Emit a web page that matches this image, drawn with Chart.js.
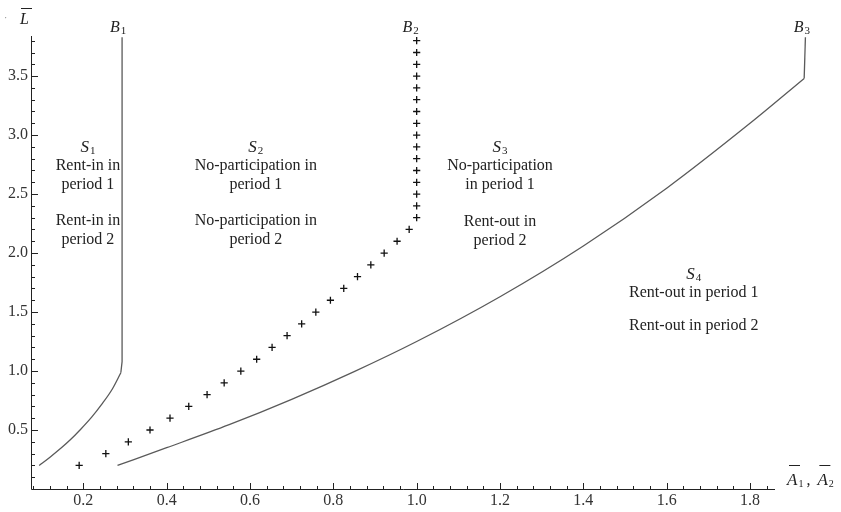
<!DOCTYPE html>
<html><head><meta charset="utf-8">
<script src="https://cdn.jsdelivr.net/npm/chart.js@4.4.0/dist/chart.umd.min.js"></script>
<style>html,body{margin:0;padding:0;background:#fff}#wrap{width:841px;height:512px}</style>
</head><body><div id="wrap"><canvas id="c" width="841" height="512"></canvas></div>
<script>
// ---- data ----
const b1CurveX = [0.094, 0.12, 0.148, 0.17, 0.192, 0.22, 0.244, 0.27, 0.29];
const b1CurveY = [0.2, 0.27, 0.351, 0.421, 0.5, 0.609, 0.717, 0.85, 0.985];
const b1VertX = [0.29, 0.293, 0.293];
const b1VertY = [0.985, 1.08, 3.83];

const b2X = [0.19, 0.254, 0.308, 0.36, 0.408, 0.453, 0.497, 0.538, 0.578, 0.616, 0.653,
             0.689, 0.724, 0.758, 0.793, 0.825, 0.858, 0.89, 0.922, 0.953, 0.982,
             1.0, 1.0, 1.0, 1.0, 1.0, 1.0, 1.0, 1.0, 1.0, 1.0, 1.0, 1.0, 1.0, 1.0, 1.0, 1.0];
const b2Y = [0.2, 0.3, 0.4, 0.5, 0.6, 0.7, 0.8, 0.9, 1.0, 1.1, 1.2,
             1.3, 1.4, 1.5, 1.6, 1.7, 1.8, 1.9, 2.0, 2.1, 2.2,
             2.3, 2.4, 2.5, 2.6, 2.7, 2.8, 2.9, 3.0, 3.1, 3.2, 3.3, 3.4, 3.5, 3.6, 3.7, 3.8];

const b3CurveX = [0.282, 0.4, 0.55, 0.7, 0.85, 1.0, 1.2, 1.4, 1.6, 1.8, 1.93];
const b3CurveY = [0.2, 0.35, 0.545, 0.76, 0.995, 1.25, 1.63, 2.06, 2.55, 3.1, 3.48];
const b3VertX = [1.93, 1.933];
const b3VertY = [3.48, 3.83];

const xTickValues = [0.2, 0.4, 0.6, 0.8, 1.0, 1.2, 1.4, 1.6, 1.8];
const xTickLabels = ['0.2', '0.4', '0.6', '0.8', '1.0', '1.2', '1.4', '1.6', '1.8'];
const yTickValues = [0.5, 1.0, 1.5, 2.0, 2.5, 3.0, 3.5];
const yTickLabels = ['0.5', '1.0', '1.5', '2.0', '2.5', '3.0', '3.5'];

const xMin = 0.0744, xMax = 1.86, yMin = 0, yMax = 3.84;

const SERIF = '"Liberation Serif", "DejaVu Serif", serif';

const pts = (xs, ys) => xs.map((v, i) => ({x: v, y: ys[i]}));

function drawSub(ctx, main, sub, cx, base, opts) {
  const mainFont = 'italic ' + opts.size + 'px ' + SERIF;
  const subFont = opts.subSize + 'px ' + SERIF;
  ctx.font = mainFont; const w1 = ctx.measureText(main).width;
  ctx.font = subFont; const w2 = ctx.measureText(sub).width;
  let left = opts.align === 'left' ? cx : cx - (w1 + w2 + 1) / 2;
  ctx.textAlign = 'left'; ctx.textBaseline = 'alphabetic';
  ctx.font = mainFont; ctx.fillText(main, left, base);
  ctx.font = subFont; ctx.fillText(sub, left + w1 + 1, base + opts.drop);
  return left + w1 + 1 + w2;
}

const regionTexts = [
  {x: 0.211, lines: [[2.703, 'Rent-in in'], [2.542, 'period 1'], [2.237, 'Rent-in in'], [2.076, 'period 2']], s: '1', sy: 2.86},
  {x: 0.614, lines: [[2.703, 'No-participation in'], [2.542, 'period 1'], [2.237, 'No-participation in'], [2.076, 'period 2']], s: '2', sy: 2.86},
  {x: 1.2, lines: [[2.703, 'No-participation'], [2.542, 'in period 1'], [2.228, 'Rent-out in'], [2.067, 'period 2']], s: '3', sy: 2.86},
  {x: 1.665, lines: [[1.631, 'Rent-out in period 1'], [1.352, 'Rent-out in period 2']], s: '4', sy: 1.78}
];
const boundaryLabels = [{x: 0.264, s: '1'}, {x: 0.966, s: '2'}, {x: 1.905, s: '3'}];

const axisPlugin = {
  id: 'mathAxes',
  afterDraw(chart) {
    const ctx = chart.ctx, xs = chart.scales.x, ys = chart.scales.y;
    const snap = p => Math.round(p) + 0.5;
    const ax = snap(xs.getPixelForValue(xMin));
    const ay = snap(ys.getPixelForValue(0));
    const xr = xs.getPixelForValue(xMax);
    const yt = ys.getPixelForValue(yMax);
    ctx.save();
    ctx.strokeStyle = '#222'; ctx.lineWidth = 1;
    ctx.beginPath();
    ctx.moveTo(ax, ay); ctx.lineTo(xr, ay);
    ctx.moveTo(ax, ay); ctx.lineTo(ax, yt);
    for (let i = 0; i <= 44; i++) {
      const v = 0.08 + i * 0.04;
      if (v > xMax) break;
      const p = snap(xs.getPixelForValue(v));
      const major = Math.abs(v / 0.2 - Math.round(v / 0.2)) < 1e-6;
      ctx.moveTo(p, ay); ctx.lineTo(p, ay - (major ? 6.5 : 3.5));
    }
    for (let i = 1; i <= 38; i++) {
      const v = i * 0.1;
      const p = snap(ys.getPixelForValue(v));
      const major = i % 5 === 0;
      ctx.moveTo(ax, p); ctx.lineTo(ax + (major ? 6.5 : 3.5), p);
    }
    ctx.stroke();

    ctx.fillStyle = '#222';
    regionTexts.forEach(r => {
      const cx = xs.getPixelForValue(r.x);
      drawSub(ctx, 'S', r.s, cx, ys.getPixelForValue(r.sy), {size: 17, subSize: 11, drop: 2});
      ctx.font = '16px ' + SERIF; ctx.textAlign = 'center'; ctx.textBaseline = 'alphabetic';
      r.lines.forEach(l => ctx.fillText(l[1], cx, ys.getPixelForValue(l[0])));
    });
    boundaryLabels.forEach(b => {
      drawSub(ctx, 'B', b.s, xs.getPixelForValue(b.x), 31.5, {size: 16, subSize: 11, drop: 2, align: 'left'});
    });
    // y axis label L-bar
    ctx.font = 'italic 16px ' + SERIF; ctx.textAlign = 'left'; ctx.textBaseline = 'alphabetic';
    ctx.fillText('L', 20, 24);
    ctx.beginPath(); ctx.moveTo(21, 8.5); ctx.lineTo(32, 8.5); ctx.stroke();
    ctx.fillStyle = '#888'; ctx.font = '10px ' + SERIF; ctx.fillText('·', 4, 21);
    ctx.fillStyle = '#222';
    // x axis label A1, A2
    let e = drawSub(ctx, 'A', '1', 787, 485, {size: 17, subSize: 10, drop: 2, align: 'left'});
    ctx.beginPath(); ctx.moveTo(789, 465.5); ctx.lineTo(800, 465.5); ctx.stroke();
    ctx.font = '16px ' + SERIF; ctx.fillText(',', e + 3, 485);
    const a2 = e + 14;
    drawSub(ctx, 'A', '2', a2, 485, {size: 17, subSize: 10, drop: 2, align: 'left'});
    ctx.beginPath(); ctx.moveTo(a2 + 2, 465.5); ctx.lineTo(a2 + 13, 465.5); ctx.stroke();
    ctx.restore();
  }
};

const lineStyle = {showLine: true, pointRadius: 0, borderColor: '#5a5a5a', borderWidth: 1.3, fill: false, clip: false};

new Chart(document.getElementById('c').getContext('2d'), {
  type: 'scatter',
  data: {
    datasets: [
      Object.assign({label: 'B1', data: pts(b1CurveX, b1CurveY), cubicInterpolationMode: 'monotone'}, lineStyle),
      Object.assign({label: 'B1v', data: pts(b1VertX, b1VertY), tension: 0}, lineStyle),
      {label: 'B2', data: pts(b2X, b2Y), showLine: false, pointStyle: 'cross', pointRadius: 3.6,
       borderColor: '#111', backgroundColor: '#111', pointBorderWidth: 1.3, clip: false},
      Object.assign({label: 'B3', data: pts(b3CurveX, b3CurveY), cubicInterpolationMode: 'monotone'}, lineStyle),
      Object.assign({label: 'B3v', data: pts(b3VertX, b3VertY), tension: 0}, lineStyle)
    ]
  },
  options: {
    responsive: false, animation: false, devicePixelRatio: 1,
    layout: {padding: {left: 0, right: 66, top: 36, bottom: 0}},
    plugins: {legend: {display: false}, tooltip: {enabled: false}},
    scales: {
      x: {
        type: 'linear', min: xMin, max: xMax,
        afterFit(s) { s.height = 23; },
        afterBuildTicks(s) { s.ticks = xTickValues.map(v => ({value: v})); },
        grid: {display: false, drawTicks: false}, border: {display: false},
        ticks: {font: {family: SERIF, size: 16}, color: '#333', padding: 2, maxRotation: 0, autoSkip: false,
                callback: (v, i) => xTickLabels[i]}
      },
      y: {
        type: 'linear', min: yMin, max: yMax,
        afterFit(s) { s.width = 31; },
        afterBuildTicks(s) { s.ticks = yTickValues.map(v => ({value: v})); },
        grid: {display: false, drawTicks: false}, border: {display: false},
        ticks: {font: {family: SERIF, size: 16}, color: '#333', padding: 3, autoSkip: false,
                callback: (v, i) => yTickLabels[i]}
      }
    }
  },
  plugins: [axisPlugin]
});
</script></body></html>
